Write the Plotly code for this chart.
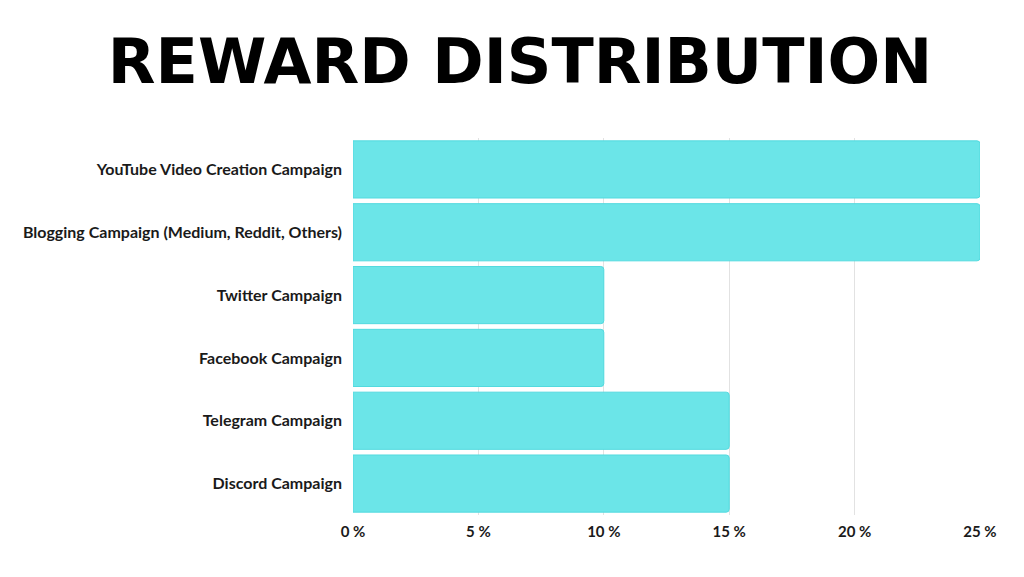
import plotly.graph_objects as go

categories = [
    "YouTube Video Creation Campaign",
    "Blogging Campaign (Medium, Reddit, Others)",
    "Twitter Campaign",
    "Facebook Campaign",
    "Telegram Campaign",
    "Discord Campaign",
]
values = [25, 25, 10, 10, 15, 15]
tick_vals = [0, 5, 10, 15, 20, 25]
tick_text = ["0 %", "5 %", "10 %", "15 %", "20 %", "25 %"]

fig = go.Figure(
    go.Bar(
        x=values,
        y=categories,
        orientation="h",
        marker=dict(color="#6BE5E8", line=dict(color="#52DADF", width=1), cornerradius=3),
        hoverinfo="x+y",
    )
)

fig.update_layout(
    width=1024,
    height=577,
    paper_bgcolor="white",
    plot_bgcolor="white",
    margin=dict(l=345, r=52, t=130, b=70),
    bargap=0.09,
    showlegend=False,
    title=dict(
        text="REWARD DISTRIBUTION",
        x=0.5,
        xanchor="center",
        y=0.87,
        yanchor="bottom",
        font=dict(family="DejaVu Sans", size=62, color="black", weight="bold"),
    ),
    xaxis=dict(
        range=[0, 25],
        tickvals=tick_vals,
        ticktext=tick_text,
        showgrid=True,
        gridcolor="#E2E2E2",
        gridwidth=1,
        zeroline=False,
        showline=False,
        tickfont=dict(family="Lato", size=15, color="#1a1a1a", weight="bold"),
        ticks="",
        ticklabelstandoff=6,
        fixedrange=True,
    ),
    yaxis=dict(
        autorange="reversed",
        showgrid=False,
        zeroline=False,
        showline=False,
        ticks="",
        ticklabelstandoff=10,
        tickfont=dict(family="Lato", size=16, color="#1a1a1a", weight="bold"),
    ),
)

fig.write_html("out.html")
